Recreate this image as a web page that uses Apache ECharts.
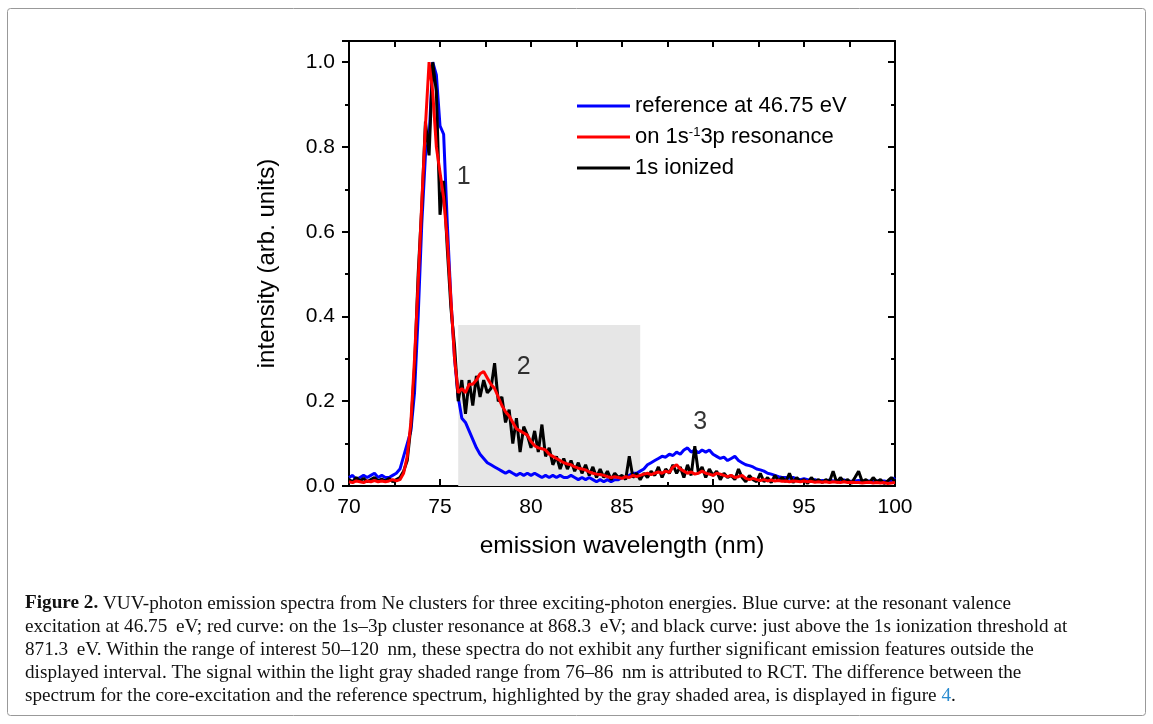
<!DOCTYPE html>
<html><head><meta charset="utf-8">
<script src="https://cdn.jsdelivr.net/npm/echarts@6/dist/echarts.min.js"></script>
<style>html,body{margin:0;padding:0;background:#fff}#c{width:1153px;height:724px}</style>
</head><body><div id="c"></div>
<script>
// wavelength grid (nm): start and step of the sampled spectra
const wlStart = 70.0;
const wlStep = 0.2;

// reference at 46.75 eV (blue)
const blueVals = [
0.02,0.025,0.015,0.02,0.025,0.02,0.025,0.03,0.02,0.025,
0.02,0.02,0.025,0.03,0.04,0.07,0.10,0.13,0.22,0.40,
0.62,0.78,0.82,1.0,0.97,0.85,0.83,0.62,0.44,0.30,
0.21,0.16,0.15,0.13,0.11,0.09,0.075,0.065,0.055,0.05,
0.045,0.04,0.035,0.03,0.035,0.03,0.025,0.03,0.025,0.03,
0.025,0.03,0.025,0.02,0.025,0.02,0.025,0.02,0.025,0.02,
0.02,0.025,0.02,0.015,0.02,0.015,0.02,0.015,0.01,0.015,
0.01,0.015,0.01,0.015,0.015,0.02,0.02,0.025,0.03,0.03,
0.035,0.04,0.05,0.055,0.06,0.065,0.07,0.068,0.075,0.072,
0.08,0.075,0.085,0.09,0.08,0.085,0.078,0.085,0.08,0.085,
0.075,0.07,0.065,0.068,0.06,0.065,0.07,0.06,0.055,0.05,
0.048,0.045,0.04,0.038,0.035,0.03,0.028,0.025,0.022,0.02,
0.02,0.018,0.02,0.017,0.015,0.017,0.015,0.013,0.015,0.012,
0.013,0.012,0.014,0.012,0.013,0.012,0.014,0.012,0.011,0.012,
0.013,0.012,0.011,0.012,0.01,0.012,0.011,0.012,0.01,0.012,
0.02];

// on 1s^-1 3p resonance (red)
const redVals = [
0.01,0.008,0.012,0.01,0.008,0.012,0.01,0.013,0.01,0.012,
0.01,0.012,0.015,0.012,0.015,0.03,0.07,0.15,0.30,0.48,
0.67,0.85,1.0,0.93,0.80,0.74,0.68,0.58,0.44,0.30,
0.22,0.23,0.22,0.24,0.24,0.25,0.265,0.27,0.255,0.24,
0.23,0.21,0.19,0.175,0.165,0.15,0.135,0.13,0.125,0.12,
0.105,0.095,0.09,0.088,0.085,0.075,0.07,0.065,0.06,0.055,
0.052,0.05,0.045,0.042,0.04,0.038,0.033,0.03,0.028,0.027,
0.025,0.022,0.02,0.022,0.02,0.018,0.022,0.02,0.025,0.022,
0.025,0.028,0.03,0.027,0.03,0.033,0.03,0.035,0.032,0.045,
0.05,0.04,0.035,0.03,0.033,0.028,0.03,0.035,0.03,0.028,
0.025,0.03,0.028,0.025,0.022,0.025,0.02,0.022,0.025,0.018,
0.015,0.018,0.015,0.013,0.015,0.012,0.014,0.012,0.013,0.011,
0.012,0.01,0.012,0.011,0.01,0.012,0.01,0.011,0.009,0.01,
0.009,0.01,0.008,0.01,0.009,0.008,0.01,0.008,0.009,0.008,
0.008,0.007,0.008,0.009,0.007,0.008,0.007,0.008,0.006,0.007,
0.008];

// 1s ionized (black)
const blackVals = [
0.015,0.01,0.02,0.012,0.018,0.01,0.015,0.02,0.012,0.016,
0.012,0.018,0.01,0.015,0.02,0.035,0.06,0.14,0.28,0.50,
0.66,0.86,0.78,1.0,0.93,0.64,0.72,0.56,0.42,0.33,
0.20,0.25,0.17,0.25,0.19,0.26,0.21,0.25,0.22,0.23,
0.29,0.20,0.21,0.15,0.18,0.10,0.16,0.08,0.14,0.12,
0.09,0.13,0.08,0.145,0.07,0.09,0.05,0.07,0.04,0.065,
0.04,0.06,0.035,0.055,0.03,0.05,0.025,0.045,0.02,0.04,
0.02,0.035,0.015,0.03,0.02,0.025,0.015,0.07,0.02,0.03,
0.015,0.03,0.02,0.035,0.025,0.045,0.02,0.04,0.03,0.05,
0.03,0.045,0.02,0.05,0.025,0.094,0.03,0.045,0.02,0.04,
0.025,0.035,0.015,0.03,0.02,0.025,0.015,0.04,0.02,0.01,
0.025,0.015,0.01,0.03,0.01,0.02,0.008,0.025,0.012,0.02,
0.01,0.03,0.008,0.02,0.01,0.015,0.006,0.02,0.01,0.015,
0.008,0.015,0.01,0.035,0.008,0.02,0.01,0.015,0.006,0.02,
0.035,0.01,0.015,0.008,0.02,0.01,0.015,0.006,0.012,0.02,
0.01];

const seriesNames = ['reference at 46.75 eV', 'on 1s-13p resonance', '1s ionized'];

// gray shaded RCT range: [xFrom, xTo, yTop]
const shadeRange = [76, 86, 0.38];

// peak number labels
const peakLabelText = ['1', '2', '3'];
const peakLabelX = [76.3, 79.6, 89.3];
const peakLabelY = [0.73, 0.28, 0.15];

// axis settings
const xMin = 70, xMax = 100, xInterval = 5;
const yMin = 0, yMax = 1.05, yInterval = 0.2;

const captionLines = [
  '{b|Figure 2.} VUV-photon emission spectra from Ne clusters for three exciting-photon energies. Blue curve: at the resonant valence',
  'excitation at 46.75\u2009 eV; red curve: on the 1s\u20133p cluster resonance at 868.3\u2009 eV; and black curve: just above the 1s ionization threshold at',
  '871.3\u2009 eV. Within the range of interest 50\u2013120\u2009 nm, these spectra do not exhibit any further significant emission features outside the',
  'displayed interval. The signal within the light gray shaded range from 76\u201386\u2009 nm is attributed to RCT. The difference between the',
  'spectrum for the core-excitation and the reference spectrum, highlighted by the gray shaded area, is displayed in figure {l|4}.'
];

function toPairs(vals) {
  return vals.map((v, i) => [+(wlStart + i * wlStep).toFixed(2), v]);
}

const SANS = '"Liberation Sans", Arial, sans-serif';
const SERIF = '"Liberation Serif", "Times New Roman", serif';
const CAP = 19.2;

const chart = echarts.init(document.getElementById('c'), null, {renderer: 'canvas'});

const captionGraphics = captionLines.map((t, i) => ({
  type: 'text',
  left: 25,
  top: 594 + i * 23,
  style: {
    text: t,
    fontFamily: SERIF,
    fontSize: CAP,
    fill: '#111',
    rich: {
      b: {fontFamily: SERIF, fontSize: CAP, fontWeight: 'bold', fill: '#111'},
      l: {fontFamily: SERIF, fontSize: CAP, fill: '#2a8bd0'}
    }
  }
}));

const axisCommonLine = {show: true, onZero: false, lineStyle: {color: '#000', width: 2}};

chart.setOption({
  backgroundColor: '#fff',
  animation: false,
  grid: {left: 349, top: 41, width: 546, height: 445, containLabel: false},
  legend: {
    data: seriesNames,
    orient: 'vertical',
    left: 577,
    top: 95,
    padding: 0,
    itemWidth: 53,
    itemHeight: 3,
    itemGap: 9,
    icon: 'rect',
    selectedMode: false,
    textStyle: {
      fontFamily: SANS, fontSize: 22, color: '#000',
      rich: {
        t: {fontFamily: SANS, fontSize: 22, color: '#000'},
        sup: {fontFamily: SANS, fontSize: 13, color: '#000', verticalAlign: 'top', padding: [0, 0, 9, 0]}
      }
    },
    formatter: function (name) {
      if (name === seriesNames[1]) return '{t|on 1s}{sup|-1}{t|3p resonance}';
      return name;
    }
  },
  xAxis: [{
    type: 'value', min: xMin, max: xMax, interval: xInterval, position: 'bottom',
    name: 'emission wavelength (nm)', nameLocation: 'middle', nameGap: 48,
    nameTextStyle: {fontFamily: SANS, fontSize: 24.5, color: '#000'},
    axisLine: axisCommonLine,
    axisTick: {show: true, inside: true, length: 7, lineStyle: {color: '#000', width: 2}},
    minorTick: {show: true, splitNumber: 2, length: 4, lineStyle: {color: '#000', width: 2}},
    axisLabel: {fontFamily: SANS, fontSize: 21, color: '#000', margin: 11},
    splitLine: {show: false}
  }, {
    type: 'value', min: xMin, max: xMax, interval: xInterval, position: 'top',
    axisLine: axisCommonLine,
    axisTick: {show: true, inside: true, length: 6, lineStyle: {color: '#000', width: 2}},
    minorTick: {show: true, splitNumber: 2, length: 6, lineStyle: {color: '#000', width: 2}},
    axisLabel: {show: false},
    splitLine: {show: false}
  }],
  yAxis: [{
    type: 'value', min: yMin, max: yMax, interval: yInterval, position: 'left',
    name: 'intensity (arb. units)', nameLocation: 'middle', nameGap: 70,
    nameTextStyle: {fontFamily: SANS, fontSize: 24, color: '#000'},
    axisLine: axisCommonLine,
    axisTick: {show: true, inside: false, length: 7, lineStyle: {color: '#000', width: 2}},
    minorTick: {show: true, splitNumber: 2, length: 4, lineStyle: {color: '#000', width: 2}},
    axisLabel: {
      fontFamily: SANS, fontSize: 21, color: '#000', margin: 14, showMaxLabel: false,
      formatter: v => (Math.abs(v / yInterval - Math.round(v / yInterval)) < 1e-6 ? v.toFixed(1) : '')
    },
    splitLine: {show: false}
  }, {
    type: 'value', min: yMin, max: yMax, interval: yInterval, position: 'right',
    axisLine: axisCommonLine,
    axisTick: {show: true, inside: true, length: 7, lineStyle: {color: '#000', width: 2}},
    minorTick: {show: true, splitNumber: 2, length: 4, lineStyle: {color: '#000', width: 2}},
    axisLabel: {show: false},
    splitLine: {show: false}
  }],
  series: [
    {
      name: 'shade', type: 'line', data: [], z: 1, silent: true,
      markArea: {
        silent: true,
        itemStyle: {color: '#e6e6e6'},
        data: [[{coord: [shadeRange[0], 0]}, {coord: [shadeRange[1], shadeRange[2]]}]]
      }
    },
    {
      name: seriesNames[0], type: 'line', data: toPairs(blueVals), showSymbol: false, z: 3,
      lineStyle: {color: '#0000ff', width: 3}, itemStyle: {color: '#0000ff'}
    },
    {
      name: seriesNames[2], type: 'line', data: toPairs(blackVals), showSymbol: false, z: 4,
      lineStyle: {color: '#000000', width: 3}, itemStyle: {color: '#000000'}
    },
    {
      name: seriesNames[1], type: 'line', data: toPairs(redVals), showSymbol: false, z: 5,
      lineStyle: {color: '#ff0000', width: 3}, itemStyle: {color: '#ff0000'}
    },
    {
      name: 'peaks', type: 'scatter', symbolSize: 0, z: 6, silent: true,
      data: peakLabelText.map((t, i) => [peakLabelX[i], peakLabelY[i], t]),
      label: {
        show: true, position: 'inside', formatter: p => p.value[2],
        fontFamily: SANS, fontSize: 25, color: '#000'
      }
    }
  ],
  graphic: [{
    type: 'rect', silent: true,
    shape: {x: 7.5, y: 8.5, width: 1138, height: 707, r: 3},
    style: {fill: 'none', stroke: '#999', lineWidth: 1}
  }].concat(captionGraphics)
});
</script>
</body></html>
